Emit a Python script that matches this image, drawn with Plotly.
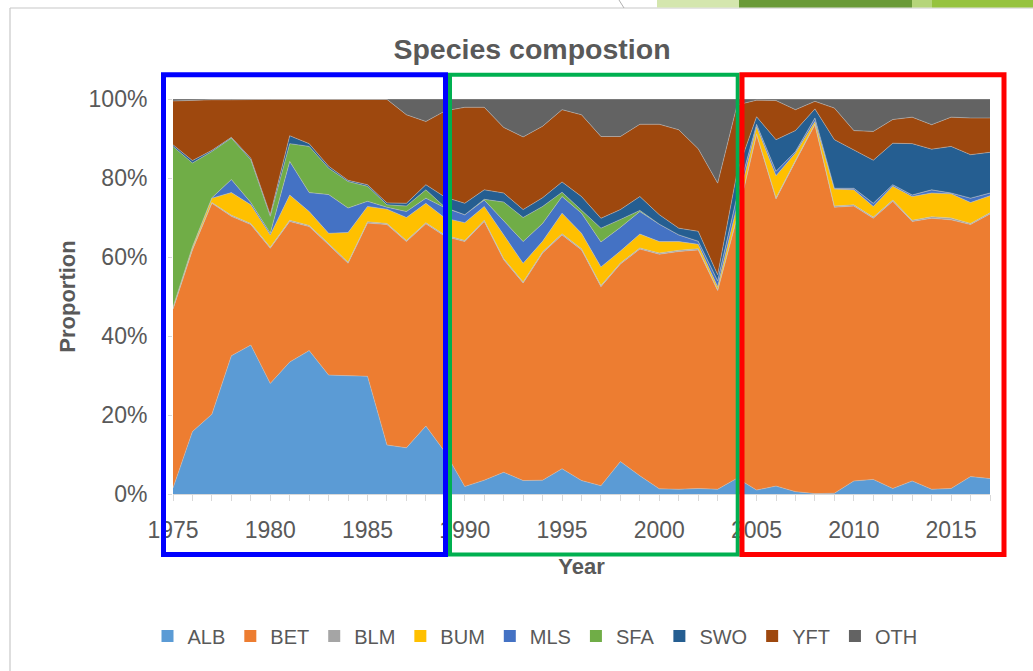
import plotly.graph_objects as go

years = list(range(1975, 2018))
species = ["ALB", "BET", "BLM", "BUM", "MLS", "SFA", "SWO", "YFT", "OTH"]
colors = ["#5B9BD5", "#ED7D31", "#A5A5A5", "#FFC000", "#4472C4", "#70AD47", "#255E91", "#9E480E", "#636363"]

ALB = [1.5, 15.8, 20.2, 35.0, 37.7, 28.0, 33.4, 36.3, 30.1, 29.9, 29.8,
       12.4, 11.7, 17.2, 10.5, 1.9, 3.5, 5.5, 3.4, 3.5, 6.4,
       3.4, 2.1, 8.2, 4.6, 1.3, 1.2, 1.4, 1.2, 4.0, 1.0,
       2.0, 0.6, 0.1, 0.2, 3.3, 3.7, 1.4, 3.3, 1.2, 1.4, 4.4, 3.9]
BET = [45.3, 46.0, 53.4, 35.3, 30.5, 34.2, 35.6, 31.4, 33.0, 28.5, 38.8,
       55.8, 52.2, 51.2, 54.7, 62.0, 65.5, 53.8, 50.0, 57.5, 59.2,
       58.4, 50.4, 50.0, 57.4, 59.4, 60.2, 60.4, 50.3, 66.0, 90.0,
       72.7, 83.6, 93.4, 72.4, 69.6, 66.1, 72.7, 65.7, 68.6, 68.0, 63.8, 67.0]
BLM = [0.2, 0.2, 0.2, 0.3, 0.3, 0.3, 0.3, 0.3, 0.3, 0.3, 0.3,
       0.3, 0.3, 0.3, 0.3, 0.3, 0.3, 0.3, 0.3, 0.3, 0.3,
       0.3, 0.3, 0.3, 0.3, 0.3, 0.3, 0.3, 0.2, 0.3, 0.2,
       0.3, 0.3, 0.2, 0.3, 0.3, 0.3, 0.3, 0.3, 0.4, 0.5, 0.3, 0.3]
BUM = [0.2, 0.5, 1.1, 5.7, 4.7, 3.1, 6.4, 3.5, 2.6, 7.5, 3.9,
       3.6, 5.8, 4.9, 4.3, 4.5, 3.5, 6.0, 4.7, 2.7, 5.2,
       3.9, 4.7, 3.0, 3.5, 2.9, 2.2, 1.1, 0.8, 2.7, 1.8,
       5.6, 1.8, 0.6, 4.3, 3.8, 2.7, 3.5, 6.0, 6.0, 6.1, 5.3, 4.3]
MLS = [0.1, 0.1, 0.1, 3.3, 0.6, 0.4, 8.5, 4.8, 9.8, 6.2, 1.3,
       0.5, 1.5, 1.3, 2.6, 2.0, 1.6, 3.6, 5.5, 4.5, 4.2,
       5.1, 6.3, 6.0, 5.7, 4.4, 1.7, 0.8, 1.5, 2.5, 0.6,
       1.1, 0.4, 0.9, 0.2, 0.4, 0.8, 0.4, 0.4, 0.8, 0.2, 1.1, 0.7]
SFA = [40.7, 21.2, 11.7, 10.5, 10.8, 4.3, 4.5, 11.7, 6.7, 6.7, 3.8,
       0.6, 1.4, 2.1, 0.1, 0.0, 0.2, 4.7, 6.1, 4.3, 1.1,
       0.8, 3.5, 2.0, 0.3, 0.0, 0.0, 0.0, 0.0, 0.0, 0.0,
       0.0, 0.0, 0.0, 0.0, 0.0, 0.0, 0.0, 0.0, 0.0, 0.0, 0.0, 0.0]
SWO = [0.4, 0.6, 0.3, 0.2, 0.4, 0.4, 2.0, 0.7, 0.5, 0.3, 0.4,
       0.5, 0.7, 1.3, 2.6, 2.9, 2.4, 2.3, 2.0, 2.2, 2.6,
       3.4, 2.5, 2.5, 3.5, 2.4, 1.7, 2.5, 1.5, 6.0, 1.9,
       8.0, 5.3, 2.3, 12.3, 9.8, 10.9, 10.5, 13.0, 10.3, 11.8, 11.0, 10.3]
YFT = [11.1, 15.3, 12.8, 9.5, 14.9, 29.2, 9.2, 11.2, 17.0, 20.6, 21.7,
       26.2, 22.4, 16.0, 21.9, 24.3, 20.9, 16.6, 18.4, 18.1, 18.3,
       20.7, 20.7, 18.5, 18.3, 22.9, 24.9, 20.9, 23.2, 17.0, 4.2,
       9.9, 5.3, 1.9, 8.0, 4.8, 7.3, 6.0, 6.7, 6.2, 7.4, 9.3, 8.7]
OTH = [0.5, 0.3, 0.2, 0.2, 0.1, 0.1, 0.1, 0.1, 0.0, 0.0, 0.0,
       0.1, 4.0, 5.7, 3.0, 2.1, 2.1, 7.2, 9.6, 6.9, 2.7,
       4.0, 9.5, 9.5, 6.4, 6.4, 7.8, 12.6, 21.3, 1.5, 0.3,
       0.4, 2.7, 0.6, 2.3, 8.0, 8.2, 5.2, 4.6, 6.5, 4.6, 4.8, 4.8]

series = [ALB, BET, BLM, BUM, MLS, SFA, SWO, YFT, OTH]
y_ticks = [0, 20, 40, 60, 80, 100]
y_labels = ["0%", "20%", "40%", "60%", "80%", "100%"]
x_ticks = [1975, 1980, 1985, 1990, 1995, 2000, 2005, 2010, 2015]

FONT = "Liberation Sans"
GREY = "#595959"

W, H = 1033, 671
L, R, T, B = 173, 43, 99, 177
PW, PH = W - L - R, H - T - B


def px(x):
    return (x - L) / PW


def py(y):
    return (H - B - y) / PH


fig = go.Figure()
for name, vals, c in zip(species, series, colors):
    fig.add_trace(go.Scatter(
        x=years, y=vals, name=name, stackgroup="one", groupnorm="percent",
        mode="lines", line=dict(width=0.6, color="rgba(195,195,195,0.8)"),
        fillcolor=c, showlegend=False, hoverinfo="x+y+name"))
for name, c in zip(species, colors):
    fig.add_trace(go.Scatter(
        x=[None], y=[None], name=name, mode="markers",
        marker=dict(symbol="square", size=12, color=c), showlegend=True))

shapes = []
# chart frame + slide decoration
shapes.append(dict(type="line", xref="paper", yref="paper", x0=px(10), x1=px(1033), y0=py(8), y1=py(8),
                   line=dict(color="#C8C8C8", width=1.2)))
shapes.append(dict(type="line", xref="paper", yref="paper", x0=px(10), x1=px(10), y0=py(8), y1=py(671),
                   line=dict(color="#C8C8C8", width=1.2)))
shapes.append(dict(type="line", xref="paper", yref="paper", x0=px(619), x1=px(624), y0=py(0), y1=py(8),
                   line=dict(color="#B0B0B0", width=1)))
for x0, x1, col in [(657, 739, "#D4E6AE"), (739, 912, "#6A9A38"), (912, 932, "#B5D57A"), (932, 1033, "#96C33F")]:
    shapes.append(dict(type="rect", xref="paper", yref="paper", x0=px(x0), x1=px(x1), y0=py(0), y1=py(7.5),
                       line=dict(width=0), fillcolor=col, layer="above"))
# period boxes
for x0, x1, col, w in [(163.5, 445.5, "#0000FF", 5), (450, 737.7, "#00B050", 4), (742, 1004, "#FF0000", 5)]:
    shapes.append(dict(type="rect", xref="paper", yref="paper", x0=px(x0), x1=px(x1), y0=py(554.5), y1=py(74.8),
                       line=dict(color=col, width=w), fillcolor="rgba(0,0,0,0)", layer="above"))

fig.update_layout(
    width=W, height=H, autosize=False,
    margin=dict(l=L, r=R, t=T, b=B, pad=0),
    paper_bgcolor="white", plot_bgcolor="white",
    font=dict(family=FONT, color=GREY, size=20),
    title=dict(text="<b>Species compostion</b>", x=532 / W, xanchor="center", y=1 - 49 / H, yanchor="middle",
               font=dict(family=FONT, size=28.5, color=GREY)),
    xaxis=dict(range=[1975, 2017], tickvals=x_ticks, ticks="outside", ticklen=6, tickcolor="#D9D9D9",
               minor=dict(dtick=1, tick0=1975, ticks="outside", ticklen=6, tickcolor="#D9D9D9"),
               showline=True, linecolor="#D9D9D9", linewidth=1, showgrid=False, zeroline=False,
               tickfont=dict(size=23, color=GREY), ticklabelstandoff=9,
               title=dict(text="<b>Year</b>", font=dict(size=22, color=GREY), standoff=17)),
    yaxis=dict(range=[0, 100], tickvals=y_ticks, ticktext=y_labels, showgrid=True, gridcolor="#D9D9D9",
               zeroline=False, showline=False, ticks="outside", ticklen=4, tickcolor="#D9D9D9",
               tickfont=dict(size=23, color=GREY), ticklabelstandoff=16,
               title=dict(text="<b>Proportion</b>", font=dict(size=22, color=GREY), standoff=6)),
    legend=dict(orientation="h", x=px(535), xanchor="center", y=py(636), yanchor="middle",
                traceorder="normal", font=dict(size=20, color=GREY), itemwidth=30,
                bgcolor="rgba(0,0,0,0)"),
    shapes=shapes,
)

fig.write_html("out.html", config={"displayModeBar": False},
               post_script="document.body.style.margin='0';document.body.style.overflow='hidden';")
